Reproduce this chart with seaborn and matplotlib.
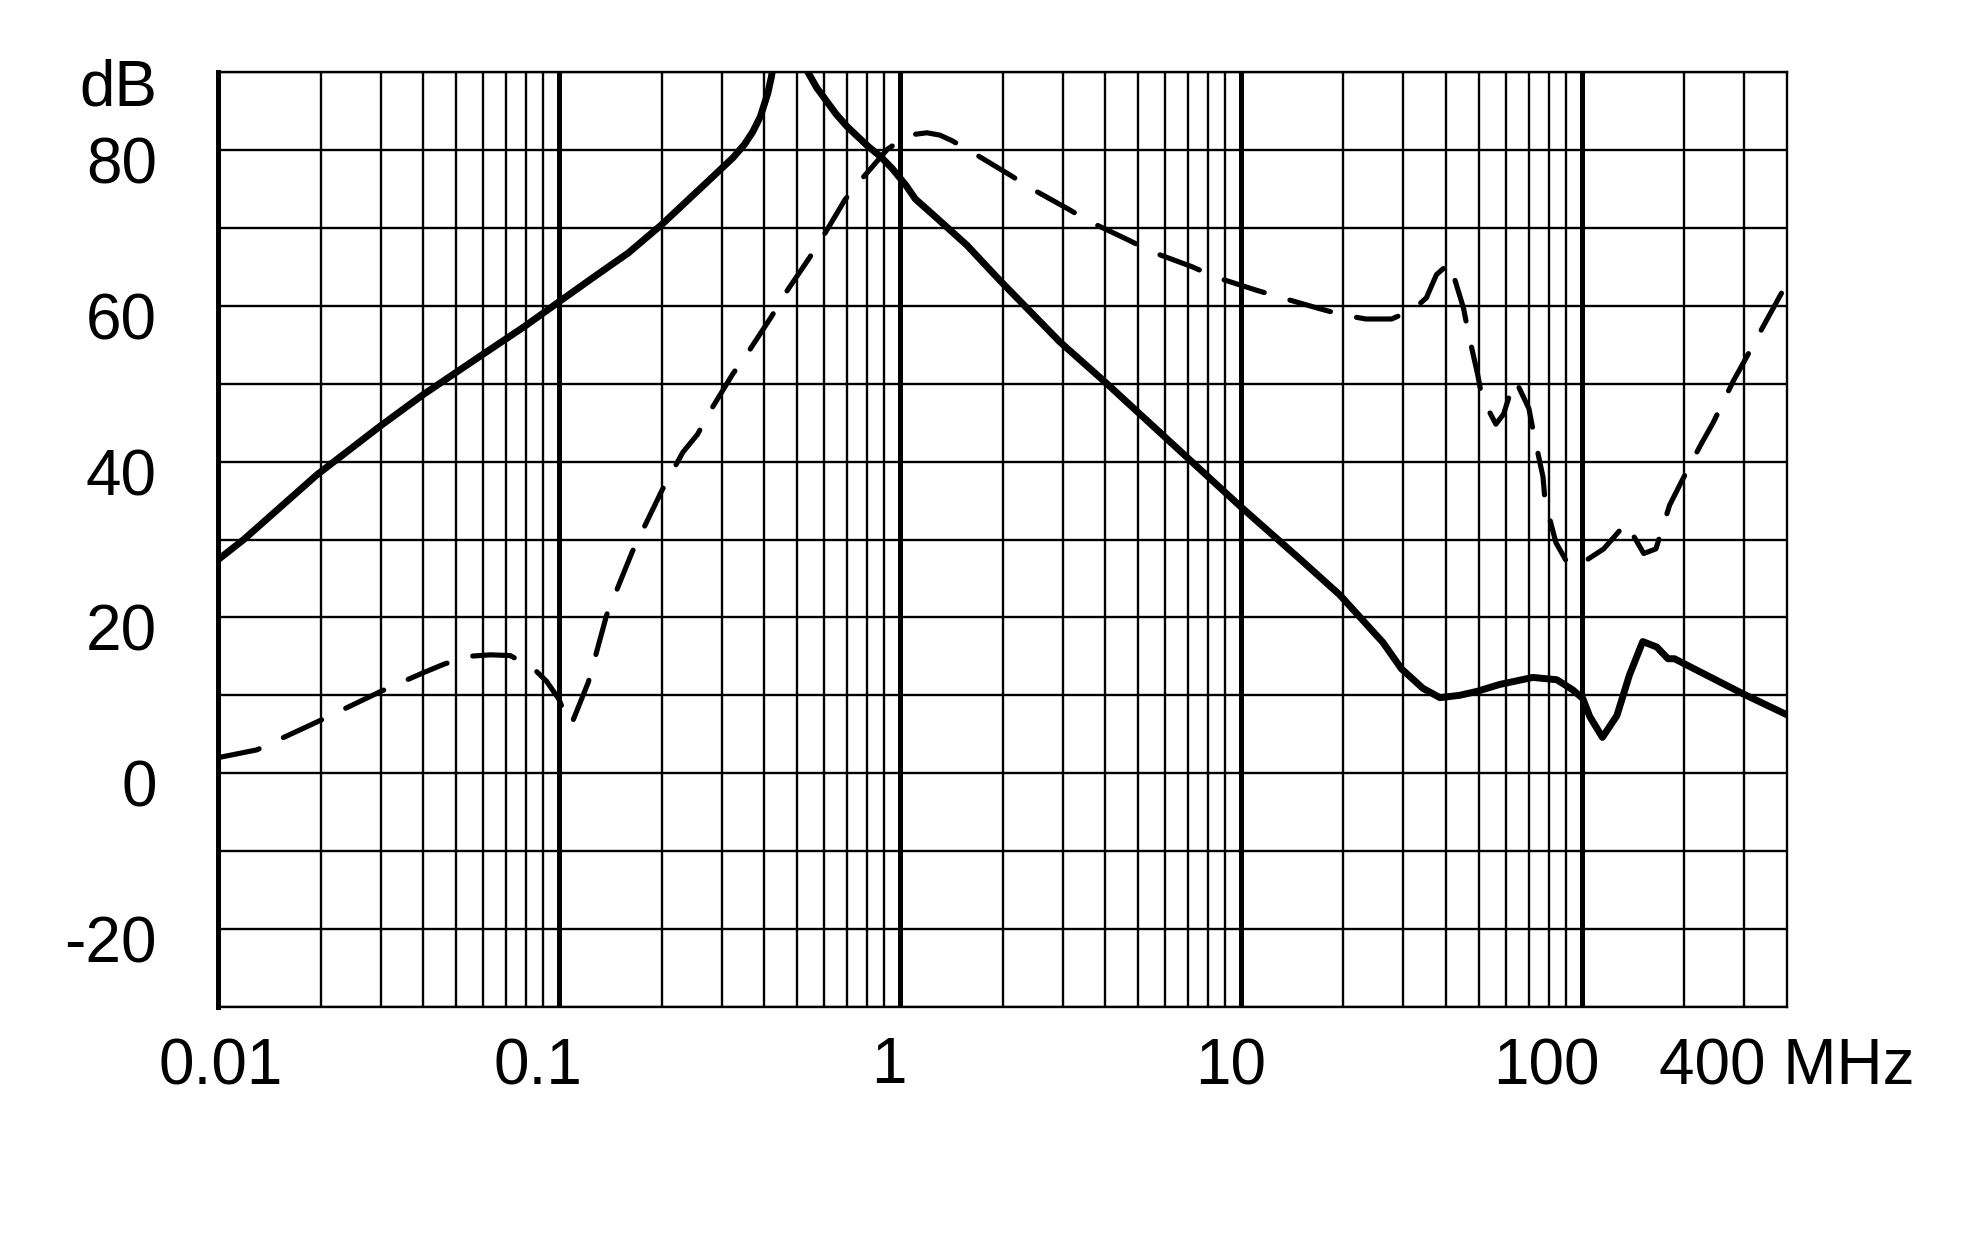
import numpy as np
import pandas as pd
import matplotlib
matplotlib.use("Agg")
import matplotlib.pyplot as plt
import matplotlib.transforms as mtransforms
import seaborn as sns

# solid curve (MHz, dB)
freq_solid = [0.01, 0.0119, 0.0195, 0.03, 0.04, 0.06, 0.079, 0.1, 0.123, 0.16, 0.2,
              0.259, 0.324, 0.35, 0.37, 0.39, 0.41, 0.42, 0.43, 0.47, 0.52, 0.537,
              0.57, 0.611, 0.65, 0.70, 0.80, 0.88, 0.95, 1.04, 1.11, 1.25, 1.57, 1.96,
              2.94, 4.0, 10, 14.9, 19.5, 26.1, 29.6, 34.2, 38.4, 43.8, 49.2, 57.5,
              71.9, 84.5, 94.1, 100.7, 105.5, 115, 126.8, 138, 151, 166, 179, 187,
              297, 400]
db_solid = [27.4, 30.0, 38.3, 44.6, 48.6, 53.8, 57.3, 60.5, 63.3, 66.8, 70.4,
            75.0, 79.0, 80.7, 82.3, 84.3, 87.3, 89.4, 92.0, 97.0, 94.0, 90.0,
            88.0, 86.2, 84.6, 83.0, 80.6, 79.1, 77.6, 75.5, 73.7, 71.7, 67.8, 63.3,
            55.4, 50.2, 34.2, 27.5, 22.9, 16.8, 13.4, 10.9, 9.7, 10.0, 10.5, 11.4,
            12.3, 12.0, 10.7, 9.6, 7.3, 4.6, 7.4, 12.6, 16.9, 16.2, 14.7, 14.7,
            10.2, 7.5]

# dashed curve (MHz, dB)
freq_dash = [0.01, 0.013, 0.02, 0.03, 0.04, 0.046, 0.054, 0.063, 0.072, 0.084, 0.092,
             0.1, 0.107, 0.11, 0.122, 0.138, 0.164, 0.201, 0.231, 0.255, 0.277, 0.323,
             0.356, 0.42, 0.46, 0.54, 0.59, 0.69, 0.76, 0.92, 1.06, 1.2, 1.31, 1.42,
             1.63, 2.1, 2.44, 3.15, 3.6, 4.7, 5.5, 7.2, 8.4, 11.1, 13.0, 17.1, 20,
             23.3, 27.7, 32, 35, 37.5, 41, 45, 46.5, 49.5, 51, 56, 59, 62, 64, 70,
             72, 77, 78, 84, 91, 98, 116, 135, 152, 165, 181, 196, 223, 243, 278,
             300, 345, 400]
db_dash = [2.0, 3.0, 6.8, 10.5, 12.9, 14.0, 15.0, 15.2, 15.1, 13.5, 11.8,
           9.5, 6.3, 6.8, 11.7, 20.3, 28.4, 36.4, 41.2, 43.5, 46.4, 51.2,
           53.8, 58.6, 61.5, 66.0, 68.6, 73.6, 75.9, 80.1, 81.9, 82.2, 81.9, 81.2,
           79.7, 76.8, 75.0, 72.3, 70.8, 68.4, 66.9, 65.0, 63.7, 62.0, 61.1, 59.6, 58.8,
           58.3, 58.3, 59.5, 61.0, 64.0, 65.5, 59.7, 56.5, 51.2, 48.2, 44.8, 46.1, 49.1, 50.4, 46.8,
           44.0, 38.0, 35.0, 29.6, 26.9, 26.7, 28.8, 32.1, 28.2, 28.8, 34.4, 37.4, 42.1, 45.0, 50.3,
           52.9, 57.8, 62.9]

x_ticks = [0.01, 0.1, 1, 10, 100, 400]
x_labels = ["0.01", "0.1", "1", "10", "100", "400 MHz"]
# px offsets, labels sit a bit off their lines
x_label_dx = [3, -21, -11, -10, -35, 0]
x_label_dy = [0, 0, 2, 0, 0, 0]
y_ticks = list(range(-30, 91, 10))
y_labels = ["", "-20", "", "0", "", "20", "", "40", "", "60", "", "80", "dB"]
decades = [0.1, 1, 10, 100]

sns.set_theme(style="white")
plt.rcParams["font.family"] = ["Liberation Sans", "DejaVu Sans"]

df_solid = pd.DataFrame({"f": freq_solid, "db": db_solid})
df_dash = pd.DataFrame({"f": freq_dash, "db": db_dash})

fig, ax = plt.subplots(figsize=(19.79, 12.5), dpi=100)
fig.subplots_adjust(left=218 / 1979, right=1787 / 1979,
                    top=1 - 72 / 1250, bottom=1 - 1007 / 1250)

ax.set_xscale("log")
ax.set_xlim(0.01, 400)
ax.set_ylim(-30, 90)

# grid: thin minor lines, thick decade lines
minor = [k * d for d in [0.01, 0.1, 1, 10, 100] for k in range(2, 10) if k * d < 400]
ax.set_xticks(minor, minor=True)
ax.set_xticks(x_ticks)
ax.set_xticklabels(x_labels)
ax.set_yticks(y_ticks)
ax.set_yticklabels(y_labels)
ax.grid(False)
ax.grid(True, which="minor", axis="x", color="black", lw=1.7)
ax.grid(True, which="major", axis="y", color="black", lw=1.7)
for d in decades:
    ax.axvline(d, color="black", lw=3.6, zorder=1)

sns.lineplot(data=df_solid, x="f", y="db", ax=ax, color="black", lw=5.0,
             estimator=None, sort=False, solid_capstyle="round", solid_joinstyle="round",
             zorder=3)
sns.lineplot(data=df_dash, x="f", y="db", ax=ax, color="black", lw=3.7,
             estimator=None, sort=False, linestyle=(0, (8.2, 5.2)),
             dash_capstyle="round", dash_joinstyle="round", zorder=3)

ax.set_xlabel("")
ax.set_ylabel("")

for side in ["top", "right", "bottom"]:
    ax.spines[side].set_color("black")
    ax.spines[side].set_linewidth(1.7)
ax.spines["left"].set_color("black")
ax.spines["left"].set_linewidth(3.6)

ax.tick_params(axis="both", which="both", length=0, labelsize=46, colors="black")
ax.tick_params(axis="x", pad=56)
ax.tick_params(axis="y", pad=44)

for lab, dx, dy in zip(ax.get_xticklabels(), x_label_dx, x_label_dy):
    lab.set_va("baseline")
    lab.set_transform(lab.get_transform() +
                      mtransforms.ScaledTranslation(dx / 100, dy / 100, fig.dpi_scale_trans))
for lab in ax.get_yticklabels():
    lab.set_transform(lab.get_transform() +
                      mtransforms.ScaledTranslation(0, -10 / 100, fig.dpi_scale_trans))

fig.savefig("out.png", dpi=100, facecolor="white")
